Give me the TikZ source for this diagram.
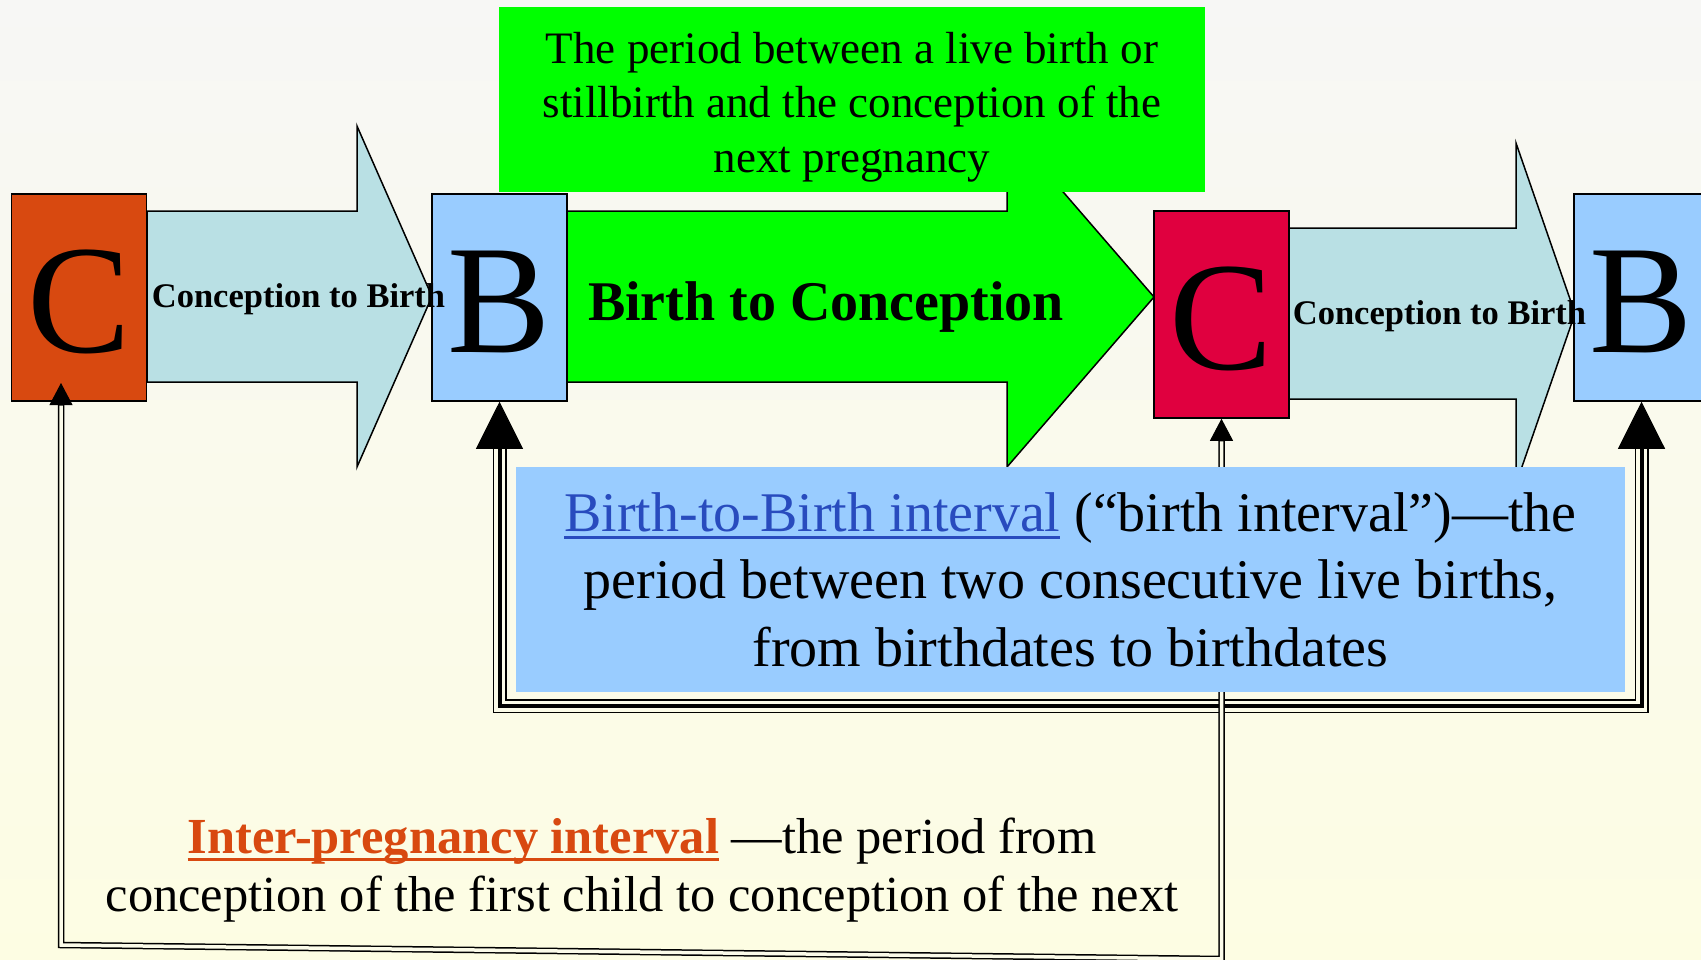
\documentclass[tikz,border=0pt]{standalone}
\usepackage{fontspec}
\setmainfont{Liberation Serif}
\usetikzlibrary{arrows.meta}

\definecolor{conorange}{RGB}{216,73,16}
\definecolor{concrimson}{RGB}{224,0,63}
\definecolor{birthblue}{RGB}{153,204,255}
\definecolor{gestcyan}{RGB}{185,224,228}
\definecolor{gapgreen}{RGB}{0,255,0}
\definecolor{linkblue}{RGB}{40,75,190}
\definecolor{paper}{RGB}{251,251,233}
\definecolor{papertop}{RGB}{247,247,245}
\definecolor{paperbottom}{RGB}{253,253,227}

% underline with a fixed, heavier rule
\newcommand{\ulinetext}[1]{\setbox0\hbox{#1}\rlap{\rule[-8pt]{\wd0}{3pt}}\box0}

\tikzset{
  bbtip/.tip={Triangle[length=47pt,width=47pt]},
  cctip/.tip={Triangle[length=22pt,width=23pt]},
  eventbox/.style={draw=black, line width=1.5pt, minimum width=135pt, minimum height=207pt,
    inner sep=0pt, text height=110pt, text depth=0pt, font=\fontsize{155}{155}\selectfont},
  blockarrow/.style={draw=black, line width=1.5pt, line join=miter},
  gestation/.style={blockarrow, fill=gestcyan},
  recovery/.style={blockarrow, fill=gapgreen},
  spanlabel/.style={anchor=base, font=\bfseries\fontsize{34.5}{40}\selectfont},
  bbouter/.style={draw=black, line width=14pt, shorten <=46pt, shorten >=46pt},
  bbgap/.style={draw=paper, line width=11pt, shorten <=47.5pt, shorten >=47.5pt},
  bbcore/.style={draw=black, line width=4pt, shorten <=46pt, shorten >=46pt},
  bbhead/.style={draw=black, line width=1pt, bbtip-bbtip},
  ccouter/.style={draw=black, line width=6.5pt, shorten <=21pt, shorten >=21pt},
  ccgap/.style={draw=paper, line width=3.5pt, shorten <=22.5pt, shorten >=22.5pt},
  cchead/.style={draw=black, line width=1pt, cctip-cctip},
}

\begin{document}
\begin{tikzpicture}[x=1pt, y=-1pt]
  \useasboundingbox (0,0) rectangle (1701,959);
  \clip (0,0) rectangle (1701,959);
  \shade[top color=papertop, bottom color=paperbottom] (0,0) rectangle (1701,959);

  % interval arrows
  \draw[gestation] (147,211) -- (357,211) -- (357,126) -- (432,296.5) -- (357,467) -- (357,382) -- (147,382) -- cycle;
  \draw[recovery] (567,211) -- (1007,211) -- (1007,127) -- (1154,297) -- (1007,467) -- (1007,382) -- (567,382) -- cycle;
  \draw[gestation] (1289,228) -- (1516,228) -- (1516,143) -- (1575,313.5) -- (1516,484) -- (1516,399) -- (1289,399) -- cycle;

  % conceptions and births
  \node[eventbox, fill=conorange] (C1) at (79,297.5) {C};
  \node[eventbox, fill=birthblue] (B1) at (499.5,297.5) {B};
  \node[eventbox, fill=concrimson] (C2) at (1221.5,314.5) {C};
  \node[eventbox, fill=birthblue] (B2) at (1641.5,297.5) {B};

  \node[fill=gapgreen, minimum width=706pt, minimum height=185pt] (gapdef) at (852,99.5) {};
  \node[align=center, font=\fontsize{45}{54.5}\selectfont] (gaptext) at (852,107) {The period between a live birth or\\stillbirth and the conception of the\\next pregnancy};

  \node[spanlabel] (cb1) at (298.5,307) {Conception to Birth};
  \node[spanlabel] (cb2) at (1439.5,324) {Conception to Birth};
  \node[anchor=base, font=\bfseries\fontsize{56}{60}\selectfont] (bc) at (826,320) {Birth to Conception};

  % birth to birth
  \coordinate (bbmid) at (1070,706);
  \draw[bbouter] (B1.south) |- (bbmid) -| (B2.south);
  \draw[bbgap] (B1.south) |- (bbmid) -| (B2.south);
  \draw[bbhead] (B1.south) |- (bbmid) -| (B2.south);
  \draw[bbcore] (B1.south) |- (bbmid) -| (B2.south);

  % conception to conception
  \coordinate (ccright) at (1221.5,959);
  \coordinate (ccleft) at (61,945);
  \coordinate (c1tip) at (61,383);
  \draw[cchead] (C2.south) -- (ccright) -- (ccleft) -- (c1tip);
  \draw[ccouter] (C2.south) -- (ccright) -- (ccleft) -- (c1tip);
  \draw[ccgap] (C2.south) -- (ccright) -- (ccleft) -- (c1tip);

  \node[fill=birthblue, minimum width=1109pt, minimum height=225pt, align=center,
    font=\fontsize{56}{67.5}\selectfont] (b2b) at (1070.5,579.5)
    {\textcolor{linkblue}{\ulinetext{Birth-to-Birth interval}} (“birth interval”)—the\\period between two consecutive live births,\\from birthdates to birthdates};

  \node[align=center, font=\fontsize{50.5}{58.5}\selectfont] (ipi) at (642,870)
    {\textbf{\color{conorange}\ulinetext{Inter-pregnancy interval}} —the period from\\conception of the first child to conception of the next};
\end{tikzpicture}
\end{document}
